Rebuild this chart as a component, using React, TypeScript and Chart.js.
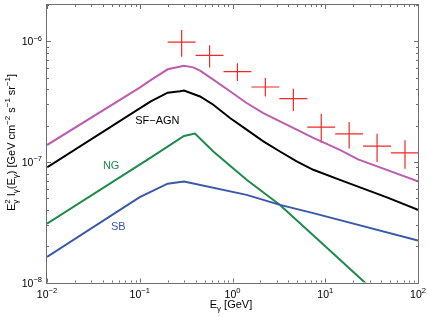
import React, { useEffect, useRef } from "react";
import { Chart, registerables } from "chart.js";
Chart.register(...registerables);

// Total (magenta)
const totalE = [0.01, 0.1, 0.13, 0.2, 0.3, 0.377, 0.447, 0.621, 0.94, 1.42, 2.15, 3.25, 4.92, 7.43, 14.4, 22.6, 100];
const totalV = [1.38e-7, 4.13e-7, 4.74e-7, 5.86e-7, 6.28e-7, 6.08e-7, 5.71e-7, 4.81e-7, 3.85e-7, 3.08e-7, 2.54e-7, 2.17e-7, 1.85e-7, 1.58e-7, 1.26e-7, 1.05e-7, 6.9e-8];
// SF-AGN (black)
const agnE = [0.01, 0.13, 0.2, 0.272, 0.3, 0.447, 0.621, 0.94, 1.42, 2.15, 3.25, 4.92, 7.43, 14.4, 47, 100];
const agnV = [9.0e-8, 3.16e-7, 3.75e-7, 3.85e-7, 3.9e-7, 3.49e-7, 2.98e-7, 2.31e-7, 1.85e-7, 1.48e-7, 1.22e-7, 1.01e-7, 8.6e-8, 7.1e-8, 5.05e-8, 4.0e-8];
// NG (green)
const ngE = [0.01, 0.13, 0.3, 0.394, 0.621, 1.42, 3.25, 10, 26.7, 100];
const ngV = [3.07e-8, 1.08e-7, 1.64e-7, 1.72e-7, 1.22e-7, 7.1e-8, 4.4e-8, 2.0e-8, 1.0e-8, 3.7e-9];
// SB (blue)
const sbE = [0.01, 0.1, 0.2, 0.3, 1.42, 3.25, 7.43, 100];
const sbV = [1.63e-8, 5.1e-8, 6.6e-8, 6.87e-8, 5.33e-8, 4.4e-8, 3.76e-8, 2.23e-8];
// Measured data (red crosses)
const dataE = [0.283, 0.566, 1.13, 2.26, 4.53, 9.05, 18.1, 36.2, 72.4];
const dataELo = [0.2, 0.4, 0.8, 1.6, 3.2, 6.4, 12.8, 25.6, 51.2];
const dataEHi = [0.4, 0.8, 1.6, 3.2, 6.4, 12.8, 25.6, 51.2, 102.4];
const dataV = [9.86e-7, 7.65e-7, 5.6e-7, 4.18e-7, 3.35e-7, 1.94e-7, 1.71e-7, 1.35e-7, 1.19e-7];
const dataVLo = [7.46e-7, 6.05e-7, 4.68e-7, 3.48e-7, 2.64e-7, 1.44e-7, 1.29e-7, 9.96e-8, 8.78e-8];
const dataVHi = [1.24e-6, 9.27e-7, 6.57e-7, 4.96e-7, 4.05e-7, 2.51e-7, 2.14e-7, 1.71e-7, 1.51e-7];
// Curve labels
const labelText = ["SF\u2212AGN", "NG", "SB"];
const labelE = [0.155, 0.0492, 0.0586];
const labelV = [2.05e-7, 8.75e-8, 2.73e-8];
const labelColor = ["#000000", "#1e8a4c", "#3b58a8"];
// Axis ticks
const xTickExp = [-2, -1, 0, 1, 2];
const yTickExp = [-8, -7, -6];

const FONT = "'Liberation Sans', Arial, Helvetica, sans-serif";

export default function App() {
  const ref = useRef<HTMLCanvasElement>(null);
  useEffect(() => {
    const canvas = ref.current!;
    const pts = (xs: number[], ys: number[]) => xs.map((x, i) => ({ x, y: ys[i] }));
    const hBars: any[] = [];
    const vBars: any[] = [];
    dataE.forEach((e, i) => {
      hBars.push({ x: dataELo[i], y: dataV[i] }, { x: dataEHi[i], y: dataV[i] }, { x: e, y: null });
      vBars.push({ x: e, y: dataVLo[i] }, { x: e, y: dataVHi[i] }, { x: e, y: null });
    });
    const line = (data: any[], color: string, width: number) => ({
      data,
      borderColor: color,
      backgroundColor: color,
      borderWidth: width,
      showLine: true,
      pointRadius: 0,
      tension: 0,
      spanGaps: false,
      clip: 0,
    });

    const supText = (ctx: CanvasRenderingContext2D, parts: [string, number][], x: number, y: number, size: number, align: string) => {
      const small = size * 0.72;
      const widths = parts.map(([t, m]) => {
        ctx.font = `${m === 0 ? size : small}px ${FONT}`;
        return ctx.measureText(t).width;
      });
      const total = widths.reduce((a, b) => a + b, 0);
      let cx = align === "center" ? x - total / 2 : align === "right" ? x - total : x;
      parts.forEach(([t, m], i) => {
        ctx.font = `${m === 0 ? size : small}px ${FONT}`;
        const dy = m === 1 ? -size * 0.45 : m === -1 ? size * 0.3 : 0;
        ctx.fillText(t, cx, y + dy);
        cx += widths[i];
      });
      return total;
    };

    const deco = {
      id: "deco",
      afterDraw(chart: any) {
        const ctx: CanvasRenderingContext2D = chart.ctx;
        const { left, right, top, bottom } = chart.chartArea;
        const xs = chart.scales.x;
        const ys = chart.scales.y;
        ctx.save();
        ctx.strokeStyle = "#6e6e6e";
        ctx.lineWidth = 1;
        ctx.strokeRect(Math.round(left) - 0.5, Math.round(top) - 0.5, Math.round(right - left) + 1, Math.round(bottom - top) + 1);
        ctx.beginPath();
        for (let d = -2; d < 2; d++) {
          for (let k = 1; k <= 9; k++) {
            const v = k * Math.pow(10, d);
            const px = Math.round(xs.getPixelForValue(v)) + 0.5;
            const len = k === 1 ? 4 : 2;
            if (px < left || px > right + 1) continue;
            ctx.moveTo(px, bottom); ctx.lineTo(px, bottom - len);
            ctx.moveTo(px, top); ctx.lineTo(px, top + len);
          }
        }
        for (let d = -8; d <= -6; d++) {
          for (let k = 1; k <= 9; k++) {
            const v = k * Math.pow(10, d);
            if (v > 2.0001e-6) continue;
            const py = Math.round(ys.getPixelForValue(v)) + 0.5;
            const len = k === 1 ? 4 : 2;
            ctx.moveTo(left, py); ctx.lineTo(left + len, py);
            ctx.moveTo(right, py); ctx.lineTo(right - len, py);
          }
        }
        ctx.stroke();

        ctx.fillStyle = "#000";
        ctx.textBaseline = "alphabetic";
        ctx.textAlign = "left";
        xTickExp.forEach((e) => {
          const px = xs.getPixelForValue(Math.pow(10, e));
          supText(ctx, [["10", 0], [e < 0 ? "\u2212" + -e : String(e), 1]], px, bottom + 15.5, 10.5, "center");
        });
        yTickExp.forEach((e) => {
          const py = ys.getPixelForValue(Math.pow(10, e));
          supText(ctx, [["10", 0], ["\u2212" + -e, 1]], left - 5, py + 4, 10.5, "right");
        });

        // x title
        supText(ctx, [["E", 0], ["\u03b3", -1], [" [GeV]", 0]], 231, 307.5, 11, "center");

        // y title (rotated)
        ctx.save();
        ctx.translate(15, 142.5);
        ctx.rotate(-Math.PI / 2);
        const size = 11;
        const small = size * 0.72;
        const segs: [string, number][] = [
          ["E", 0], ["2|\u03b3", 2], [" I", 0], ["\u03b3", -1], ["(E", 0], ["\u03b3", -1],
          [") [GeV cm", 0], ["\u22122", 1], [" s", 0], ["\u22121", 1], [" sr", 0], ["\u22121", 1], ["]", 0],
        ];
        const wOf = (t: string, m: number) => {
          if (m === 2) {
            ctx.font = `${small}px ${FONT}`;
            const [a, b] = t.split("|");
            return Math.max(ctx.measureText(a).width, ctx.measureText(b).width);
          }
          ctx.font = `${m === 0 ? size : small}px ${FONT}`;
          return ctx.measureText(t).width;
        };
        const tot = segs.reduce((s, [t, m]) => s + wOf(t, m), 0);
        let cx = -tot / 2;
        segs.forEach(([t, m]) => {
          const w = wOf(t, m);
          if (m === 2) {
            const [a, b] = t.split("|");
            ctx.font = `${small}px ${FONT}`;
            ctx.fillText(a, cx, -size * 0.45);
            ctx.fillText(b, cx, size * 0.3);
          } else {
            ctx.font = `${m === 0 ? size : small}px ${FONT}`;
            const dy = m === 1 ? -size * 0.45 : m === -1 ? size * 0.3 : 0;
            ctx.fillText(t, cx, dy);
          }
          cx += w;
        });
        ctx.restore();

        // curve labels
        ctx.font = `11px ${FONT}`;
        ctx.textAlign = "center";
        labelText.forEach((t, i) => {
          ctx.fillStyle = labelColor[i];
          ctx.fillText(t, xs.getPixelForValue(labelE[i]), ys.getPixelForValue(labelV[i]));
        });
        ctx.restore();
      },
    };

    const chart = new Chart(canvas, {
      type: "scatter",
      data: {
        datasets: [
          line(pts(sbE, sbV), "#3b58a8", 2),
          line(pts(ngE, ngV), "#1e8a4c", 2),
          line(pts(agnE, agnV), "#000000", 2),
          line(pts(totalE, totalV), "#bd5cb0", 2),
          line(hBars, "#f02828", 1.2),
          line(vBars, "#f02828", 1.2),
        ] as any,
      },
      options: {
        responsive: false,
        animation: false,
        devicePixelRatio: 1,
        layout: { padding: { left: 47, right: 10, top: 5, bottom: 34.5 } },
        plugins: { legend: { display: false }, tooltip: { enabled: false } },
        scales: {
          x: { type: "logarithmic", min: 0.01, max: 100, display: false },
          y: { type: "logarithmic", min: 1e-8, max: 2e-6, display: false },
        },
      },
      plugins: [deco],
    });
    return () => chart.destroy();
  }, []);
  return (
    <div style={{ position: "fixed", left: 0, top: 0, width: 428, height: 317, background: "#fff" }}>
      <canvas ref={ref} width={428} height={317} style={{ width: 428, height: 317 }} />
    </div>
  );
}
